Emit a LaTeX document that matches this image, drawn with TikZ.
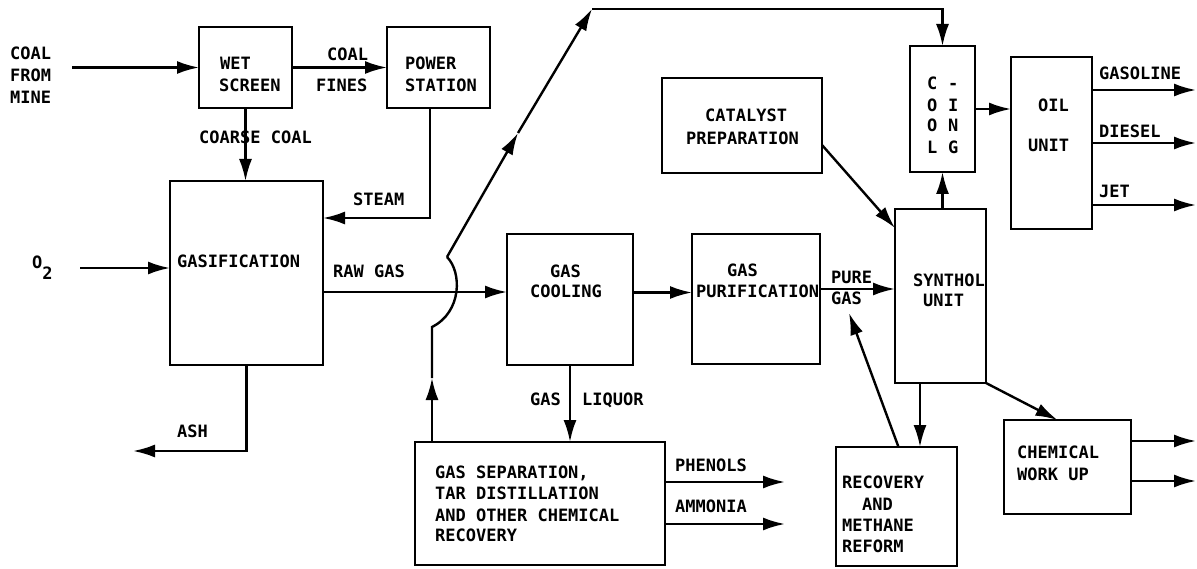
\documentclass[tikz,border=0pt]{standalone}
\usepackage{fontspec}
\newfontfamily\dfont{DejaVu Sans Mono}
\usetikzlibrary{arrows.meta,calc}
\begin{document}
\begin{tikzpicture}[x=1pt,y=-1pt,
  box/.style={draw,line width=2.8pt,inner sep=0pt,outer sep=0pt,anchor=north west},
  lbl/.style={font=\dfont\bfseries\fontsize{17pt}{22pt}\selectfont,inner sep=0pt,anchor=west,text height=12.4pt,text depth=0pt},
  conn/.style={line width=2.4pt},
  arr/.style={conn,-{Latex[length=22pt,width=13pt]}}]
\useasboundingbox (0,0) rectangle (1197,569);
% boxes
\node[box,minimum width=93pt,minimum height=81pt] (ws) at (199,27) {};
\node[box,minimum width=103pt,minimum height=81pt] (ps) at (387,27) {};
\node[box,minimum width=153pt,minimum height=184pt] (gas) at (170,181) {};
\node[box,minimum width=126pt,minimum height=131pt] (gc) at (507,234) {};
\node[box,minimum width=128pt,minimum height=130pt] (gp) at (692,234) {};
\node[box,minimum width=160pt,minimum height=95pt] (cat) at (662,78) {};
\node[box,minimum width=65pt,minimum height=126pt] (cool) at (910,46) {};
\node[box,minimum width=81pt,minimum height=172pt] (oil) at (1011,57) {};
\node[box,minimum width=91pt,minimum height=174pt] (syn) at (895,209) {};
\node[box,minimum width=121pt,minimum height=119pt] (rec) at (836,447) {};
\node[box,minimum width=127pt,minimum height=94pt] (chem) at (1004,420) {};
\node[box,minimum width=250pt,minimum height=123pt] (gs) at (415,442) {};
% labels
\node[lbl] (t1) at (10,53) {COAL};
\node[lbl] (t2) at (10,75) {FROM};
\node[lbl] (t3) at (10,97) {MINE};
\node[lbl] (t4) at (220,63) {WET};
\node[lbl] (t5) at (219,85) {SCREEN};
\node[lbl] (t6) at (327,54) {COAL};
\node[lbl] (t7) at (316,85) {FINES};
\node[lbl] (t8) at (405,63) {POWER};
\node[lbl] (t9) at (405,85) {STATION};
\node[lbl] (t10) at (199,137) {COARSE COAL};
\node[lbl] (t11) at (353,199) {STEAM};
\node[lbl] (t12) at (32,262) {O\raisebox{-11pt}{2}};
\node[lbl] (t13) at (177,261) {GASIFICATION};
\node[lbl] (t14) at (333,271) {RAW GAS};
\node[lbl] (t15) at (550,271) {GAS};
\node[lbl] (t16) at (530,291) {COOLING};
\node[lbl] (t17) at (727,270) {GAS};
\node[lbl] (t18) at (696,291) {PURIFICATION};
\node[lbl] (t19) at (831,277) {PURE};
\node[lbl] (t20) at (831,298) {GAS};
\node[lbl] (t21) at (913,280) {SYNTHOL};
\node[lbl] (t22) at (923,300) {UNIT};
\node[lbl] (t23) at (705,115) {CATALYST};
\node[lbl] (t24) at (686,138) {PREPARATION};
\node[lbl] (t25) at (927,83) {C};
\node[lbl] (t26) at (927,105) {O};
\node[lbl] (t27) at (927,125) {O};
\node[lbl] (t28) at (927,147) {L};
\node[lbl] (t29) at (948,83) {-};
\node[lbl] (t30) at (948,105) {I};
\node[lbl] (t31) at (948,125) {N};
\node[lbl] (t32) at (948,147) {G};
\node[lbl] (t33) at (1038,105) {OIL};
\node[lbl] (t34) at (1028,145) {UNIT};
\node[lbl] (t35) at (1099,73) {GASOLINE};
\node[lbl] (t36) at (1099,131) {DIESEL};
\node[lbl] (t37) at (1099,191) {JET};
\node[lbl] (t38) at (530,399) {GAS};
\node[lbl] (t39) at (582,399) {LIQUOR};
\node[lbl] (t40) at (435,472) {GAS SEPARATION,};
\node[lbl] (t41) at (435,493) {TAR DISTILLATION};
\node[lbl] (t42) at (435,515) {AND OTHER CHEMICAL};
\node[lbl] (t43) at (435,535) {RECOVERY};
\node[lbl] (t44) at (675,465) {PHENOLS};
\node[lbl] (t45) at (675,506) {AMMONIA};
\node[lbl] (t46) at (842,482) {RECOVERY};
\node[lbl] (t47) at (862,504) {AND};
\node[lbl] (t48) at (842,525) {METHANE};
\node[lbl] (t49) at (842,546) {REFORM};
\node[lbl] (t50) at (1017,452) {CHEMICAL};
\node[lbl] (t51) at (1017,474) {WORK UP};
\node[lbl] (t52) at (177,431) {ASH};
% free-end coordinates
\coordinate (coalin) at (72,70);
\coordinate (o2in) at (80,268);
\coordinate (ashend) at (133,451);
\coordinate (m1) at (432,378);
\coordinate (hopb) at (432,327);
\coordinate (hopt) at (447,257);
\coordinate (m2) at (518,133);
\coordinate (topA) at (592,9);
\coordinate (pgtip) at (849,313);
\coordinate (gasoline) at (1196,90);
\coordinate (diesel) at (1196,143);
\coordinate (jet) at (1196,205);
\coordinate (ch1) at (1196,441);
\coordinate (ch2) at (1196,481);
\coordinate (phen) at (785,482);
\coordinate (ammo) at (785,524);
% connectors
\draw[arr] (coalin |- ws.west) -- (ws.west);
\draw[arr] (ws.east) -- (ps.west);
\draw[arr] (ws.south) -- (ws.south |- gas.north);
\draw[arr] ([xshift=43pt]ps.south west) |- ([yshift=-37pt]gas.north east);
\draw[arr] (o2in) -- (o2in -| gas.west);
\draw[arr] ([yshift=-19pt]gas.east) -- ([yshift=-19pt]gas.east -| gc.west);
\draw[arr] ([yshift=7pt]gc.east) -- ([yshift=7pt]gc.east -| gp.west);
\draw[arr] ([yshift=10pt]gp.east) -- ([yshift=10pt]gp.east -| syn.west);
\draw[arr] (gc.south) -- (gc.south |- gs.north);
\draw[arr] ([xshift=17pt]gs.north west) -- (m1);
\draw[conn] (m1) -- (hopb) .. controls (462,312) and (462,272) .. (hopt);
\draw[arr] (hopt) -- (m2);
\draw[arr] (m2) -- (topA);
\draw[arr] (topA) -- (topA -| cool.north) -- (cool.north);
\draw[arr] (cool.south |- syn.north) -- (cool.south);
\draw[arr] (cool.east) -- (cool.east -| oil.west);
\draw[arr] ([yshift=53pt]oil.east) -- (gasoline);
\draw[arr] (oil.east) -- (diesel);
\draw[arr] ([yshift=-62pt]oil.east) -- (jet);
\draw[arr] ([yshift=-19.5pt]cat.east) -- ([yshift=-19pt]syn.north west);
\draw[arr] ([xshift=25pt]syn.south west) -- ([xshift=25pt]syn.south west |- rec.north);
\draw[arr] ([xshift=2pt]rec.north) -- (pgtip);
\draw[arr] (syn.south east) -- ([xshift=-10pt]chem.north);
\draw[arr] ([yshift=26pt]chem.east) -- (ch1);
\draw[arr] ([yshift=-14pt]chem.east) -- (ch2);
\draw[arr] ([yshift=-40pt]gs.north east) -- (phen);
\draw[arr] ([yshift=-82pt]gs.north east) -- (ammo);
\draw[arr] (gas.south) |- (ashend);
\end{tikzpicture}
\end{document}
